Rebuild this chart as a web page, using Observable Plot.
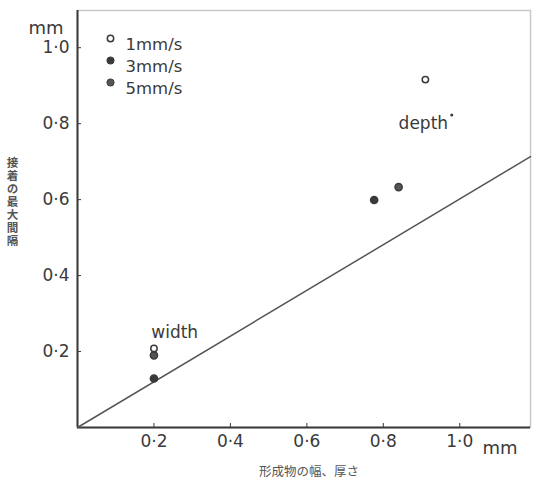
<!DOCTYPE html>
<html>
<head>
<meta charset="utf-8">
<script src="https://cdn.jsdelivr.net/npm/d3@7"></script>
<script src="https://cdn.jsdelivr.net/npm/@observablehq/plot@0.6"></script>
<style>
  body { margin: 0; background: #fff; }
  #chart svg { display: block; }
</style>
</head>
<body>
<div id="chart"></div>
<script>
// Series (mm)
const speed1X = [0.2, 0.91];
const speed1Y = [0.208, 0.916];
const speed3X = [0.2, 0.776];
const speed3Y = [0.129, 0.599];
const speed5X = [0.2, 0.84];
const speed5Y = [0.19, 0.633];
// Reference line
const lineX = [0, 1.185];
const lineY = [0, 0.713];
// Ticks
const xTicks = [0.2, 0.4, 0.6, 0.8, 1.0];
const yTicks = [0.2, 0.4, 0.6, 0.8, 1.0];
// Legend
const legendLabels = ["1mm/s", "3mm/s", "5mm/s"];
// Annotations
const annoText = ["width", "depth"];
const annoX = [0.193, 0.84];
const annoY = [0.25, 0.80];
const strayDotX = [0.979];
const strayDotY = [0.823];
// Titles
const xTitle = "形成物の幅、厚さ";
const yTitle = "接着の最大間隔";

const fmt = d => d.toFixed(1).replace(".", "·");
const pts = (xs, ys) => xs.map((x, i) => ({x, y: ys[i]}));
const lineData = pts(lineX, lineY);
const annos = annoText.map((t, i) => ({t, x: annoX[i], y: annoY[i]}));
const ink = "#3a3a3a";
const font = "DejaVu Sans, sans-serif";
const cjk = "'Noto Sans CJK JP', sans-serif";

const legendStyles = [
  {fill: "white", stroke: ink, r: 3.2, strokeWidth: 1.5},
  {fill: ink, stroke: ink, r: 3.6, strokeWidth: 1},
  {fill: "#555", stroke: ink, r: 3.6, strokeWidth: 1}
];

const plot = Plot.plot({
  width: 533,
  height: 483,
  marginLeft: 77,
  marginRight: 3,
  marginTop: 10,
  marginBottom: 56,
  style: {fontFamily: font, background: "white", color: ink},
  x: {domain: [0, 1.185]},
  y: {domain: [0, 1.098]},
  marks: [
    Plot.frame({stroke: "#c8c8c8", strokeWidth: 1.5}),
    Plot.ruleX([0], {stroke: ink, strokeWidth: 2}),
    Plot.ruleY([0], {stroke: ink, strokeWidth: 2}),
    Plot.axisX(xTicks, {label: null, tickSize: -4, tickPadding: 11, tickFormat: fmt, fontSize: 17, stroke: ink, fill: ink}),
    Plot.axisY(yTicks, {label: null, tickSize: -4, tickPadding: 12, tickFormat: fmt, fontSize: 17, stroke: ink, fill: ink}),
    Plot.line(lineData, {x: "x", y: "y", stroke: "#555", strokeWidth: 1.5}),
    Plot.dot(pts(speed3X, speed3Y), {x: "x", y: "y", r: 3.6, fill: ink, stroke: ink}),
    Plot.dot(pts(speed5X, speed5Y), {x: "x", y: "y", r: 3.6, fill: "#555", stroke: ink}),
    Plot.dot(pts(speed1X, speed1Y), {x: "x", y: "y", r: 3.2, fill: "white", stroke: ink, strokeWidth: 1.5}),
    Plot.dot(pts(strayDotX, strayDotY), {x: "x", y: "y", r: 1.5, fill: ink}),
    Plot.text(annos, {x: "x", y: "y", text: "t", textAnchor: "start", fontSize: 17, fill: ink}),
    // legend
    ...legendLabels.map((lab, i) => [
      Plot.dot([lab], {frameAnchor: "top-left", dx: 33, dy: 28 + i * 22, ...legendStyles[i]}),
      Plot.text([lab], {frameAnchor: "top-left", dx: 48, dy: 28 + i * 22, textAnchor: "start", fontSize: 16.5, fill: ink})
    ]).flat(),
    // units
    Plot.text(["mm"], {frameAnchor: "top-left", dx: -14, dy: 11, textAnchor: "end", fontSize: 18, fill: ink}),
    Plot.text(["mm"], {frameAnchor: "bottom-right", dx: -13, dy: 26, textAnchor: "end", fontSize: 18, fill: ink}),
    // axis titles
    Plot.text([xTitle], {frameAnchor: "bottom", dx: 5, dy: 48, fontSize: 12.5, fontFamily: cjk, fill: "#555"}),
    Plot.text([yTitle], {frameAnchor: "left", textAnchor: "start", dx: -65, dy: -66, fontSize: 11.5, fontFamily: cjk, fill: "#555", fontWeight: "bold"})
  ]
});
// make the y title vertical (upright CJK, top to bottom)
d3.select(plot).selectAll("text")
  .filter(function() { return this.textContent === yTitle; })
  .style("writing-mode", "vertical-rl")
  .style("letter-spacing", "1.5px")
  .attr("dy", null);
document.getElementById("chart").appendChild(plot);
</script>
</body>
</html>
